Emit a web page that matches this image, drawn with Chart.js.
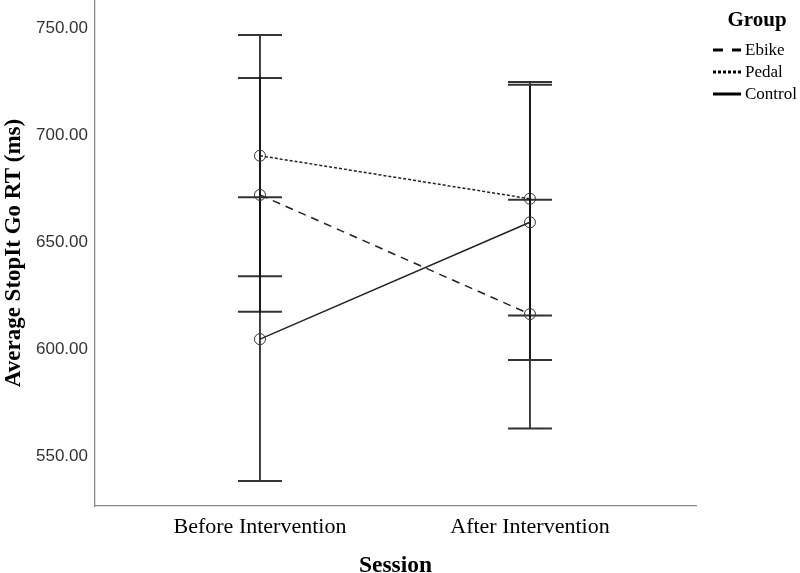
<!DOCTYPE html>
<html>
<head>
<meta charset="utf-8">
<script src="https://cdn.jsdelivr.net/npm/chart.js@4/dist/chart.umd.min.js"></script>
<style>
  html, body { margin: 0; padding: 0; background: #fff; }
  #wrap { width: 800px; height: 573px; position: relative; }
</style>
</head>
<body>
<div id="wrap"><canvas id="c" width="800" height="573"></canvas></div>
<script>
// ---- data ----
const categories = ['Before Intervention', 'After Intervention'];
const groupNames = ['Ebike', 'Pedal', 'Control'];
const ebikeMean   = [672.0, 616.3];
const ebikeLow    = [617.4, 562.8];
const ebikeHigh   = [726.6, 669.8];
const pedalMean   = [690.3, 670.2];
const pedalLow    = [634.0, 615.6];
const pedalHigh   = [746.7, 724.8];
const controlMean = [604.6, 659.2];
const controlLow  = [538.3, 594.9];
const controlHigh = [670.9, 723.5];
const yTicks = [550, 600, 650, 700, 750];

const SERIF = '"Liberation Serif", "Times New Roman", serif';
const SANS = '"Liberation Sans", Arial, sans-serif';

const styles = {
  Ebike:   { dash: [8, 6], legendDash: [10, 9] },
  Pedal:   { dash: [3, 2], legendDash: [3, 2] },
  Control: { dash: [],     legendDash: [] }
};

function pts(arr) { return arr.map((v, i) => ({ x: i, y: v })); }

const series = [
  { name: 'Ebike', mean: ebikeMean, low: ebikeLow, high: ebikeHigh },
  { name: 'Pedal', mean: pedalMean, low: pedalLow, high: pedalHigh },
  { name: 'Control', mean: controlMean, low: controlLow, high: controlHigh }
];

const datasets = series.map(s => ({
  label: s.name,
  data: pts(s.mean),
  borderColor: '#222',
  borderWidth: 1.5,
  borderDash: styles[s.name].dash,
  pointStyle: 'circle',
  pointRadius: 5.5,
  pointBorderWidth: 1,
  pointBorderColor: '#333',
  pointBackgroundColor: 'rgba(0,0,0,0)',
  fill: false,
  tension: 0
}));

const errorBars = {
  id: 'errorBars',
  beforeDatasetsDraw(chart) {
    const ctx = chart.ctx, xs = chart.scales.x, ys = chart.scales.y;
    ctx.save();
    series.forEach(s => {
      s.low.forEach((lo, i) => {
        const x = xs.getPixelForValue(i);
        const yl = ys.getPixelForValue(lo), yh = ys.getPixelForValue(s.high[i]);
        ctx.strokeStyle = '#111';
        ctx.lineWidth = 1.6;
        ctx.setLineDash([]);
        ctx.beginPath(); ctx.moveTo(x, yl); ctx.lineTo(x, yh); ctx.stroke();
        ctx.strokeStyle = '#333';
        ctx.lineWidth = 2;
        [yl, yh].forEach(y => {
          ctx.beginPath(); ctx.moveTo(x - 22, y); ctx.lineTo(x + 22, y); ctx.stroke();
        });
      });
    });
    ctx.restore();
  }
};

const groupLegend = {
  id: 'groupLegend',
  afterDraw(chart) {
    const ctx = chart.ctx;
    ctx.save();
    ctx.fillStyle = '#000';
    ctx.textBaseline = 'middle';
    ctx.textAlign = 'center';
    ctx.font = 'bold 21px ' + SERIF;
    ctx.fillText('Group', 757, 21);
    ctx.textAlign = 'left';
    ctx.font = '17px ' + SERIF;
    const ys = [50, 72, 94];
    groupNames.forEach((n, i) => {
      const y = ys[i];
      ctx.strokeStyle = '#000';
      ctx.lineWidth = 3;
      ctx.setLineDash(styles[n].legendDash);
      ctx.beginPath(); ctx.moveTo(713, y); ctx.lineTo(741, y); ctx.stroke();
      ctx.setLineDash([]);
      ctx.fillText(n, 745, y + 1);
    });
    ctx.restore();
  }
};

new Chart(document.getElementById('c'), {
  type: 'line',
  data: { datasets },
  plugins: [errorBars, groupLegend],
  options: {
    responsive: false,
    animation: false,
    events: [],
    layout: { autoPadding: false, padding: { left: 0, right: 104, top: 0, bottom: 0 } },
    plugins: { legend: { display: false }, tooltip: { enabled: false } },
    scales: {
      x: {
        type: 'linear',
        min: -0.611,
        max: 1.615,
        afterBuildTicks: s => { s.ticks = categories.map((c, i) => ({ value: i })); },
        afterFit: s => { s.height = 67; s.paddingLeft = 0; s.paddingRight = 0; },
        ticks: {
          callback: (v) => categories[v],
          color: '#000',
          padding: 8,
          maxRotation: 0,
          font: { family: SERIF, size: 22 }
        },
        grid: { display: false, drawTicks: false },
        border: { color: '#8a8a8a', width: 1.3 },
        title: {
          display: true,
          text: 'Session',
          color: '#000',
          font: { family: SERIF, size: 23.5, weight: 'bold', lineHeight: 1 },
          padding: { top: 0, bottom: -5 }
        }
      },
      y: {
        type: 'linear',
        min: 526.64,
        max: 763.08,
        afterBuildTicks: s => { s.ticks = yTicks.map(v => ({ value: v })); },
        afterFit: s => { s.width = 95; s.paddingTop = 0; s.paddingBottom = 0; },
        ticks: {
          callback: v => v.toFixed(2),
          color: '#333',
          padding: 7,
          font: { family: SANS, size: 17 }
        },
        grid: { display: false, drawTicks: false },
        border: { color: '#8a8a8a', width: 1.3 },
        title: {
          display: true,
          text: 'Average StopIt Go RT (ms)',
          color: '#000',
          font: { family: SERIF, size: 23, weight: 'bold' },
          padding: { top: 0, bottom: 0 }
        }
      }
    }
  }
});
</script>
</body>
</html>
